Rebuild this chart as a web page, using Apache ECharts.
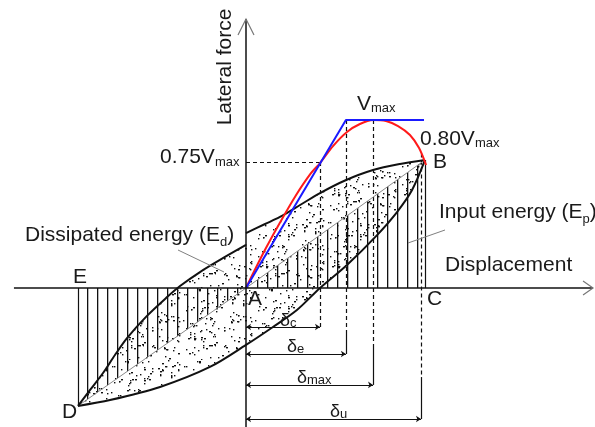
<!DOCTYPE html>
<html><head><meta charset="utf-8">
<script src="https://cdn.jsdelivr.net/npm/echarts@6/dist/echarts.min.js"></script>
<style>html,body{margin:0;padding:0;background:#fff}#c{width:595px;height:427px}</style>
</head><body><div id="c"></div>
<script>
// ---- Data (displacement units: delta_u = 100; force units: Vmax = 100) ----
const upperLeft  = [[-96.0,-70.2],[-89.1,-60.7],[-81.7,-50.6],[-74.9,-39.9],[-68.0,-29.8],[-56.6,-16.6],[-45.1,-5.4],[-37.7,1.2],[-26.3,9.5],[-14.9,16.7],[0,25.6]];
const upperRight = [[0,32.7],[10.9,38.1],[19.4,42.3],[30.9,49.4],[42.3,56.5],[56.6,64.0],[72.6,70.2],[88.0,73.8],[102.3,76.2]];
const lowerCurve = [[-96.0,-70.2],[-77.7,-66.7],[-49.1,-58.9],[-20.6,-47.0],[0,-33.9],[15.4,-23.2],[29.1,-13.1],[42.3,0],[57.7,13.7],[74.9,31.5],[86.3,45.2],[94.9,58.3],[102.3,76.2]];
const envelope   = [[0,0],[5.0,10.7],[11.4,23.8],[19.6,39.3],[28.3,54.8],[36.8,67.9],[42.3,74.4],[49.7,84.5],[57.7,92.9],[65.1,97.6],[72.6,100],[80.0,99.4],[86.9,96.4],[93.7,91.1],[98.9,83.3],[102.9,73.2]];
const bilinear   = [[0,0],[57.1,100],[101.7,100]];
const pointA = [0,0], pointB = [102.3,76.2], pointD = [-96.0,-70.2];
const deltaC = 42.3, deltaE = 57.1, deltaMax = 72.6, deltaU = 100;
const Vmax = 100, V075 = 75, VatDeltaU = 80;
const dimLevels = [-23.2,-39.3,-57.7,-78.0];
const solidFrom = [-26.8,-35.1,-53.0];
const xAxisExtent = [-132.6, 198.3];
const yAxisExtent = [-82.8, 160.1];

// ---- Layout ----
const SX = 1.75, SY = 1.68, OX = 246, OY = 288, W = 595, H = 427;
const FONT = '"Liberation Sans", Arial, sans-serif';
const INK = '#1a1a1a';

function hatchCanvas(){ const c=document.createElement('canvas'); c.width=10; c.height=10;
  const g=c.getContext('2d'); g.fillStyle='#111'; g.fillRect(7,0,1.3,10); return c; }
function stippleCanvas(){ const n=72; const c=document.createElement('canvas'); c.width=n; c.height=n;
  const g=c.getContext('2d'); g.fillStyle='#111'; let s=12345;
  const r=()=>{ s=(s*1103515245+12345)%2147483648; return s/2147483648; };
  for(let i=0;i<160;i++){ const x=Math.floor(r()*n), y=Math.floor(r()*n); g.fillRect(x,y,r()<0.3?2:1.4,1.4); }
  return c; }
const HATCH = hatchCanvas(), STIPPLE = stippleCanvas();

const mctx = document.createElement('canvas').getContext('2d');
function tw(t,s){ mctx.font = s+'px '+FONT; return mctx.measureText(t).width; }
function label(parts, x, base){ const els=[]; let cx=x;
  parts.forEach(([t,s,dy])=>{ els.push({type:'text', x:cx, y:base+(dy||0)-0.35*s, z:100,
    style:{text:t, font:s+'px '+FONT, fill:INK, align:'left', verticalAlign:'middle'}}); cx+=tw(t,s); });
  return els; }

const ring = upperLeft.concat(upperRight).concat(lowerCurve.slice().reverse());
const leftTri = [[pointD[0],0], pointD, pointA];
const rightTri = [pointA, pointB, [pointB[0],0]];

function polySeries(points, img, z){ return {type:'custom', z:z, silent:true, data:[[0,0]],
  renderItem:(p,api)=>({type:'polygon', shape:{points:points.map(q=>api.coord(q))},
    style:{fill:{image:img, repeat:'repeat'}, stroke:null}})}; }
function lineSeries(data, color, width, z, smooth){ return {type:'line', data:data, z:z, smooth:smooth||false,
  showSymbol:false, silent:true, lineStyle:{color:color, width:width, opacity:1}}; }
function segs(list, style, z, sym){ return {type:'lines', coordinateSystem:'cartesian2d', z:z, silent:true,
  symbol: sym||['none','none'], symbolSize:5, lineStyle:Object.assign({opacity:1, curveness:0}, style),
  data:list.map(c=>({coords:c}))}; }

const dashed = [
  [[0,V075],[deltaC,V075]],
  [[deltaC,V075],[deltaC,dimLevels[0]]],
  [[deltaE,Vmax],[deltaE,solidFrom[0]]],
  [[deltaMax,Vmax],[deltaMax,solidFrom[1]]],
  [[deltaU,VatDeltaU],[deltaU,solidFrom[2]]]
];
const solidExt = [
  [[deltaE,solidFrom[0]],[deltaE,dimLevels[1]]],
  [[deltaMax,solidFrom[1]],[deltaMax,dimLevels[2]]],
  [[deltaU,solidFrom[2]],[deltaU,dimLevels[3]]],
  [[pointD[0],0], pointD],
  [pointB,[pointB[0],0]]
];
const dims = [[[0,dimLevels[0]],[deltaC,dimLevels[0]]],[[0,dimLevels[1]],[deltaE,dimLevels[1]]],
  [[0,dimLevels[2]],[deltaMax,dimLevels[2]]],[[0,dimLevels[3]],[deltaU,dimLevels[3]]]];
const axes = [[[xAxisExtent[0],0],[xAxisExtent[1],0]],[[0,yAxisExtent[0]],[0,yAxisExtent[1]]]];

const graphics = [].concat(
  label([['0.75V',21],['max',13,1.5]],160,165),
  label([['V',21],['max',13,1]],357,112),
  label([['0.80V',21],['max',13,1]],420,147),
  label([['B',21]],433,170),
  label([['Input energy (E',21],['p',13,4],[')',21]],439,220),
  label([['Displacement',21]],445,273),
  label([['Dissipated energy (E',21],['d',13,4],[')',21]],25,243),
  label([['E',21]],73,285),
  label([['A',21]],248,307),
  label([['C',21]],427,307),
  label([['D',21]],62,420),
  label([['δ',18],['c',13,1]],280,327),
  label([['δ',18],['e',13,1]],287,353),
  label([['δ',18],['max',13,1]],297,384),
  label([['δ',18],['u',13,1]],330,418),
  [{type:'text', x:225, y:67, rotation:Math.PI/2, z:100,
    style:{text:'Lateral force', font:'21px '+FONT, fill:INK, align:'center', verticalAlign:'middle'}},
   {type:'line', z:90, shape:{x1:178,y1:250,x2:224,y2:272}, style:{stroke:'#808080', lineWidth:1}},
   {type:'line', z:90, shape:{x1:445,y1:230,x2:408,y2:243}, style:{stroke:'#808080', lineWidth:1}}]
);

const chart = echarts.init(document.getElementById('c'), null, {renderer:'canvas'});
chart.setOption({
  animation:false, backgroundColor:'#fff',
  grid:{left:0,right:0,top:0,bottom:0},
  xAxis:{type:'value', min:-OX/SX, max:(W-OX)/SX, show:false},
  yAxis:{type:'value', min:-(H-OY)/SY, max:OY/SY, show:false},
  graphic: graphics,
  series:[
    polySeries(ring, STIPPLE, 1),
    polySeries(leftTri, HATCH, 2),
    polySeries(rightTri, HATCH, 2),
    lineSeries([pointD, pointA, pointB], '#8a8a8a', 1, 3),
    segs(dashed, {color:'#111', width:1.2, type:[4,3]}, 3),
    segs(solidExt, {color:'#111', width:1.2}, 3),
    segs(dims, {color:'#111', width:1}, 3, ['arrow','arrow']),
    lineSeries(upperLeft, '#111', 2, 4, 0.3),
    lineSeries(upperRight, '#111', 2, 4, 0.3),
    lineSeries(lowerCurve, '#111', 2, 4, 0.3),
    lineSeries(envelope, '#ff1a1a', 2, 5, 0.3),
    lineSeries(bilinear, '#1a1aff', 2, 5),
    segs(axes, {color:'#111', width:1.5}, 6),
    {type:'custom', z:6, silent:true, data:[[0,0]], renderItem:(p,api)=>{
      const t1 = api.coord([xAxisExtent[1],0]), t2 = api.coord([0,yAxisExtent[1]]);
      const st = {stroke:'#777', lineWidth:1.2, fill:null};
      return {type:'group', children:[
        {type:'polyline', shape:{points:[[t1[0]-10,t1[1]-7],t1,[t1[0]-10,t1[1]+7]]}, style:st},
        {type:'polyline', shape:{points:[[t2[0]-8,t2[1]+16],t2,[t2[0]+8,t2[1]+16]]}, style:st}]};
    }}
  ]
});
</script></body></html>
